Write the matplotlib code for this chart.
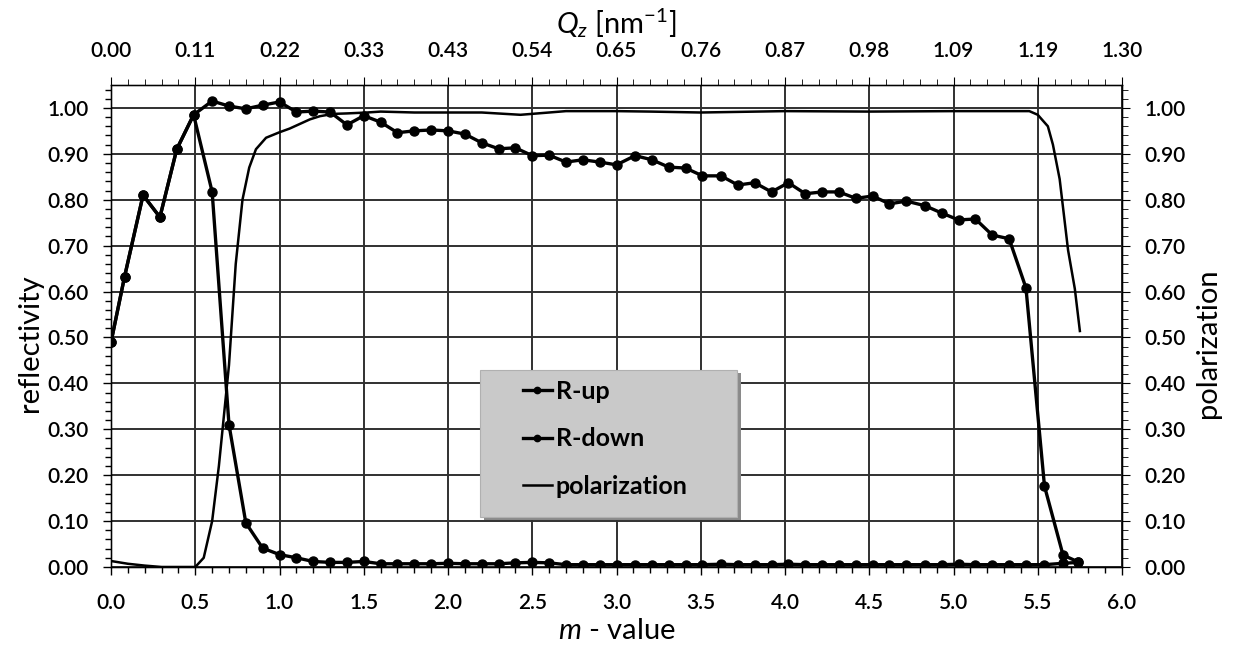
import matplotlib
matplotlib.use('Agg')
import matplotlib.pyplot as plt
from matplotlib.patches import Rectangle
from matplotlib.ticker import MultipleLocator, FixedLocator, FormatStrFormatter

plt.rcParams['font.family'] = ['Lato', 'DejaVu Sans']
plt.rcParams['mathtext.fontset'] = 'custom'
plt.rcParams['mathtext.rm'] = 'Lato'
plt.rcParams['mathtext.it'] = 'Lato:italic'

# m-Werte der Messpunkte
m_val = [0.0, 0.08, 0.19, 0.29, 0.39, 0.49, 0.6, 0.7, 0.8, 0.9, 1.0, 1.1, 1.2, 1.3, 1.4,
         1.5, 1.6, 1.7, 1.8, 1.9, 2.0, 2.1, 2.2, 2.3, 2.4, 2.5, 2.6, 2.7, 2.8, 2.9, 3.0,
         3.11, 3.21, 3.31, 3.41, 3.51, 3.62, 3.72, 3.82, 3.92, 4.02, 4.12, 4.22, 4.32,
         4.42, 4.52, 4.62, 4.72, 4.83, 4.93, 5.03, 5.13, 5.23, 5.33, 5.43, 5.54, 5.65, 5.74]

r_up = [0.49, 0.632, 0.81, 0.762, 0.91, 0.985, 1.015, 1.004, 0.998, 1.006, 1.013, 0.991,
        0.993, 0.991, 0.963, 0.983, 0.969, 0.946, 0.95, 0.952, 0.95, 0.943, 0.924, 0.911,
        0.913, 0.896, 0.897, 0.882, 0.887, 0.882, 0.876, 0.896, 0.887, 0.871, 0.869, 0.852,
        0.852, 0.832, 0.837, 0.817, 0.837, 0.813, 0.817, 0.817, 0.803, 0.808, 0.791, 0.797,
        0.787, 0.771, 0.756, 0.758, 0.723, 0.715, 0.608, 0.176, 0.026, 0.011]

r_down = [0.49, 0.632, 0.81, 0.762, 0.91, 0.985, 0.817, 0.31, 0.096, 0.041, 0.027, 0.02,
          0.012, 0.01, 0.01, 0.012, 0.007, 0.007, 0.007, 0.007, 0.008, 0.007, 0.007, 0.007,
          0.009, 0.01, 0.009, 0.005, 0.005, 0.005, 0.005, 0.005, 0.005, 0.005, 0.005, 0.005,
          0.006, 0.005, 0.005, 0.005, 0.006, 0.005, 0.005, 0.005, 0.005, 0.005, 0.005, 0.005,
          0.005, 0.005, 0.006, 0.005, 0.005, 0.005, 0.005, 0.005, 0.008, 0.01]

# Polarisation (durchgezogene Linie)
pol_m = [0.0, 0.1, 0.2, 0.3, 0.4, 0.5, 0.55, 0.6, 0.64, 0.7, 0.74, 0.78, 0.82, 0.86, 0.92,
         1.0, 1.06, 1.12, 1.18, 1.24, 1.32, 1.4, 1.52, 1.6, 1.8, 2.0, 2.2, 2.43, 2.6, 2.7,
         3.0, 3.2, 3.5, 4.0, 4.5, 5.0, 5.3, 5.45, 5.5, 5.56, 5.59, 5.63, 5.68, 5.72, 5.75]
pol = [0.013, 0.007, 0.003, 0.0, 0.0, 0.0, 0.02, 0.1, 0.22, 0.44, 0.66, 0.8, 0.87, 0.91,
       0.935, 0.947, 0.955, 0.965, 0.975, 0.982, 0.987, 0.988, 0.99, 0.992, 0.99, 0.99,
       0.99, 0.985, 0.99, 0.993, 0.993, 0.992, 0.99, 0.993, 0.992, 0.993, 0.993, 0.993,
       0.985, 0.96, 0.92, 0.845, 0.69, 0.606, 0.514]

# obere Achse: Qz
qz_pos = [0.0, 0.5, 1.0, 1.5, 2.0, 2.5, 3.0, 3.5, 4.0, 4.5, 5.0, 5.5, 6.0]
qz_labels = ['0.00', '0.11', '0.22', '0.33', '0.43', '0.54', '0.65', '0.76', '0.87',
             '0.98', '1.09', '1.19', '1.30']

y_major = [0.0, 0.1, 0.2, 0.3, 0.4, 0.5, 0.6, 0.7, 0.8, 0.9, 1.0]

tick_fs = 15
label_fs = 21

fig = plt.figure(figsize=(12.38, 6.52), dpi=100)
ax = fig.add_axes([0.0897, 0.1304, 0.8166, 0.7393])

ax.plot(m_val, r_up, color='black', lw=2.4, marker='o', ms=6.5, label='R-up', zorder=3)
ax.plot(m_val, r_down, color='black', lw=2.4, marker='o', ms=6.5, label='R-down', zorder=3)
ax.plot(pol_m, pol, color='black', lw=1.8, label='polarization', zorder=3)

ax.set_xlim(0, 6)
ax.set_ylim(0, 1.05)
ax.xaxis.set_major_locator(MultipleLocator(0.5))
ax.xaxis.set_minor_locator(MultipleLocator(0.1))
ax.yaxis.set_major_locator(FixedLocator(y_major))
ax.yaxis.set_minor_locator(MultipleLocator(0.02))
ax.xaxis.set_major_formatter(FormatStrFormatter('%.1f'))
ax.yaxis.set_major_formatter(FormatStrFormatter('%.2f'))
ax.grid(True, which='major', color='#303030', lw=1.4)
ax.set_axisbelow(True)
ax.tick_params(which='both', direction='out', labelsize=tick_fs, colors='black')
ax.tick_params(which='major', length=6, width=1)
ax.tick_params(which='minor', length=4, width=1)
ax.tick_params(axis='x', pad=13)
ax.tick_params(axis='y', pad=10)
for s in ax.spines.values():
    s.set_linewidth(1.0)
for t in ax.get_xticklabels() + ax.get_yticklabels():
    t.set_fontweight('semibold')

ax.set_xlabel('$m$ - value', fontsize=label_fs, labelpad=3)
ax.set_ylabel('reflectivity', fontsize=label_fs, labelpad=3)
ax.yaxis.label.set_y(0.465)

# rechte Achse
ax2 = ax.twinx()
ax2.set_ylim(0, 1.05)
ax2.yaxis.set_major_locator(FixedLocator(y_major))
ax2.yaxis.set_minor_locator(MultipleLocator(0.02))
ax2.yaxis.set_major_formatter(FormatStrFormatter('%.2f'))
ax2.tick_params(which='both', direction='out', labelsize=tick_fs)
ax2.tick_params(which='major', length=6, pad=10)
ax2.tick_params(which='minor', length=4)
for t in ax2.get_yticklabels():
    t.set_fontweight('semibold')
ax2.set_ylabel('polarization', fontsize=label_fs, labelpad=7)
ax2.yaxis.label.set_y(0.465)

# obere Achse
ax3 = ax.twiny()
ax3.set_xlim(0, 6)
ax3.set_xticks(qz_pos)
ax3.set_xticklabels(qz_labels, fontweight='semibold')
ax3.xaxis.set_minor_locator(MultipleLocator(0.1))
ax3.tick_params(which='both', direction='out', labelsize=tick_fs)
ax3.tick_params(which='major', length=6, pad=11)
ax3.tick_params(which='minor', length=4)
ax3.set_xlabel('$Q_z$ [nm$^{-1}$]', fontsize=label_fs, labelpad=6)

# Legende mit grauem Kasten
ax.add_patch(Rectangle((0.369, 0.098), 0.254, 0.305, transform=ax.transAxes,
                       facecolor='#8a8a8a', edgecolor='none', zorder=4))
ax.add_patch(Rectangle((0.365, 0.104), 0.254, 0.305, transform=ax.transAxes,
                       facecolor='#c9c9c9', edgecolor='#b0b0b0', lw=0.8, zorder=5))
leg = ax.legend(loc='upper left', bbox_to_anchor=(0.4075, 0.388), frameon=False,
                fontsize=18, handlelength=1.15, handletextpad=0.16, labelspacing=0.98,
                borderpad=0, borderaxespad=0, markerscale=0.7)
leg.set_zorder(6)
for t in leg.get_texts():
    t.set_fontweight('bold')

plt.savefig('out.png', dpi=100)
